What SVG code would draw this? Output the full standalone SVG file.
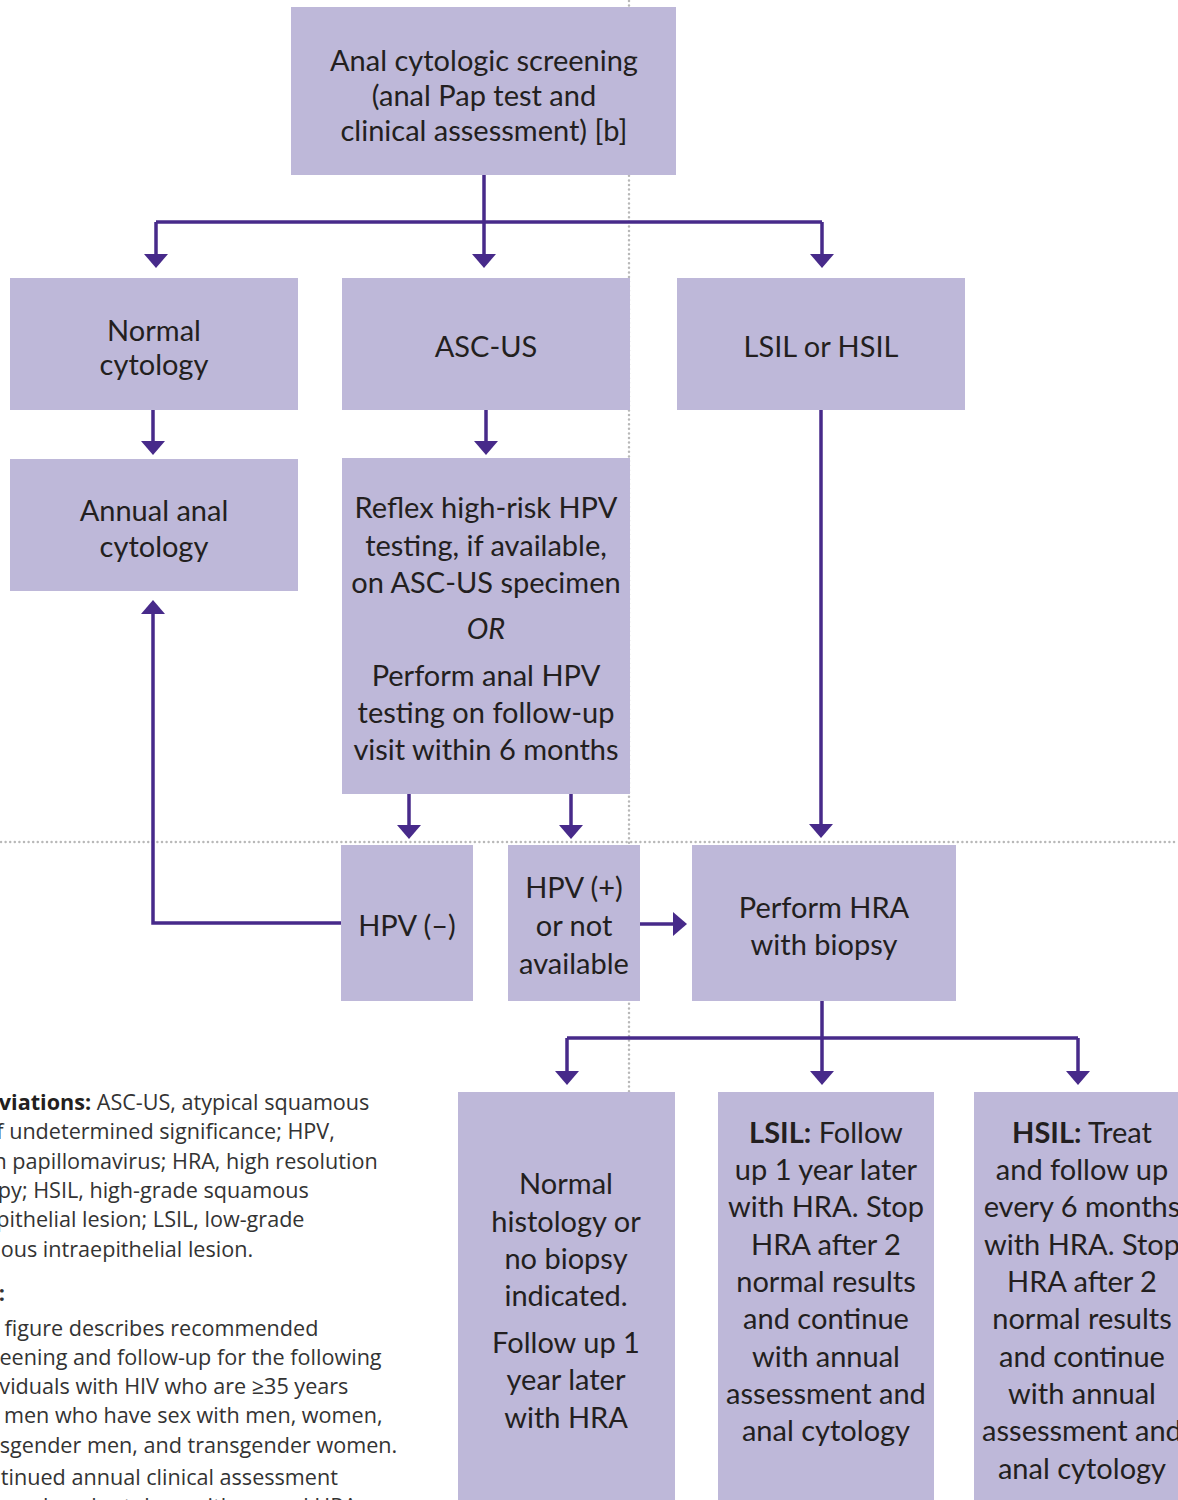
<svg xmlns="http://www.w3.org/2000/svg" width="1178" height="1500" viewBox="0 0 1178 1500">
<style>
.box{fill:#BEB8D9}
.t{font-family:Lato,"Noto Sans",sans-serif;font-size:29px;fill:#231F20;text-anchor:middle}
.b{font-weight:bold}
.i{font-style:italic}
.c{fill:none;stroke:#472A8A;stroke-width:3.5}
.a{marker-end:url(#ah)}
.dot{fill:none;stroke:#B8B8B8;stroke-width:2.5;stroke-linecap:round;stroke-dasharray:0 4.6}
.n{font-family:"Open Sans","Noto Sans",sans-serif;font-size:21.6px;fill:#333333}
</style>
<defs>
<marker id="ah" viewBox="0 0 14 24" refX="8" refY="12" markerWidth="14" markerHeight="24" markerUnits="userSpaceOnUse" orient="auto">
<path d="M0,0 L14,12 L0,24 z" fill="#472A8A"/>
</marker>
</defs>
<g id="guides">
<path class="dot" d="M629,1 V1092"/>
<path class="dot" d="M1,842 H1178"/>
</g>
<g id="connectors">
<path class="c" d="M484,175 V222"/>
<path class="c" d="M156,222 H822"/>
<path class="c a" d="M156,222 V262"/>
<path class="c a" d="M484,222 V262"/>
<path class="c a" d="M822,222 V262"/>
<path class="c a" d="M153,410 V449"/>
<path class="c a" d="M486,410 V449"/>
<path class="c a" d="M821,410 V832"/>
<path class="c a" d="M409,794 V833"/>
<path class="c a" d="M571,794 V833"/>
<path class="c a" d="M341,923 H153 V606"/>
<path class="c a" d="M640,924 H681"/>
<path class="c" d="M822,1001 V1038"/>
<path class="c" d="M567,1038 H1078"/>
<path class="c a" d="M567,1038 V1079"/>
<path class="c a" d="M822,1038 V1079"/>
<path class="c a" d="M1078,1038 V1079"/>
</g>
<g id="screening">
<rect class="box" x="291" y="7" width="385" height="168"/>
<text class="t" x="484" y="71">Anal cytologic screening</text>
<text class="t" x="484" y="106">(anal Pap test and</text>
<text class="t" x="484" y="141">clinical assessment) [b]</text>
</g>
<g id="normal-cytology">
<rect class="box" x="10" y="278" width="288" height="132"/>
<text class="t" x="154" y="341">Normal</text>
<text class="t" x="154" y="375">cytology</text>
</g>
<g id="asc-us">
<rect class="box" x="342" y="278" width="288" height="132"/>
<text class="t" x="486" y="357">ASC-US</text>
</g>
<g id="lsil-hsil">
<rect class="box" x="677" y="278" width="288" height="132"/>
<text class="t" x="821" y="357">LSIL or HSIL</text>
</g>
<g id="annual">
<rect class="box" x="10" y="459" width="288" height="132"/>
<text class="t" x="154" y="521">Annual anal</text>
<text class="t" x="154" y="557">cytology</text>
</g>
<g id="reflex">
<rect class="box" x="342" y="458" width="288" height="336"/>
<text class="t" x="486" y="518">Reflex high-risk HPV</text>
<text class="t" x="486" y="556">testing, if available,</text>
<text class="t" x="486" y="593">on ASC-US specimen</text>
<text class="t i" x="486" y="639">OR</text>
<text class="t" x="486" y="686">Perform anal HPV</text>
<text class="t" x="486" y="723">testing on follow-up</text>
<text class="t" x="486" y="760">visit within 6 months</text>
</g>
<g id="hpv-neg">
<rect class="box" x="341" y="845" width="132" height="156"/>
<text class="t" x="407" y="936">HPV (–)</text>
</g>
<g id="hpv-pos">
<rect class="box" x="508" y="845" width="132" height="156"/>
<text class="t" x="574" y="898">HPV (+)</text>
<text class="t" x="574" y="936">or not</text>
<text class="t" x="574" y="974">available</text>
</g>
<g id="hra">
<rect class="box" x="692" y="845" width="264" height="156"/>
<text class="t" x="824" y="918">Perform HRA</text>
<text class="t" x="824" y="955">with biopsy</text>
</g>
<g id="normal-histology">
<rect class="box" x="458" y="1092" width="217" height="410"/>
<text class="t" x="566" y="1194">Normal</text>
<text class="t" x="566" y="1232">histology or</text>
<text class="t" x="566" y="1269">no biopsy</text>
<text class="t" x="566" y="1306">indicated.</text>
<text class="t" x="566" y="1353">Follow up 1</text>
<text class="t" x="566" y="1390">year later</text>
<text class="t" x="566" y="1428">with HRA</text>
</g>
<g id="lsil-follow">
<rect class="box" x="718" y="1092" width="216" height="410"/>
<text class="t" x="826" y="1143"><tspan class="b">LSIL:</tspan> Follow</text>
<text class="t" x="826" y="1180">up 1 year later</text>
<text class="t" x="826" y="1217">with HRA. Stop</text>
<text class="t" x="826" y="1255">HRA after 2</text>
<text class="t" x="826" y="1292">normal results</text>
<text class="t" x="826" y="1329">and continue</text>
<text class="t" x="826" y="1367">with annual</text>
<text class="t" x="826" y="1404">assessment and</text>
<text class="t" x="826" y="1441">anal cytology</text>
</g>
<g id="hsil-treat">
<rect class="box" x="974" y="1092" width="216" height="410"/>
<text class="t" x="1082" y="1143"><tspan class="b">HSIL:</tspan> Treat</text>
<text class="t" x="1082" y="1180">and follow up</text>
<text class="t" x="1082" y="1217">every 6 months</text>
<text class="t" x="1082" y="1255">with HRA. Stop</text>
<text class="t" x="1082" y="1292">HRA after 2</text>
<text class="t" x="1082" y="1329">normal results</text>
<text class="t" x="1082" y="1367">and continue</text>
<text class="t" x="1082" y="1404">with annual</text>
<text class="t" x="1082" y="1441">assessment and</text>
<text class="t" x="1082" y="1479">anal cytology</text>
</g>
<g id="notes">
<text class="n" x="-66" y="1110"><tspan class="b" fill="#231F20">Abbreviations:</tspan> ASC-US, atypical squamous</text>
<text class="n" x="-66" y="1139">cells of undetermined significance; HPV,</text>
<text class="n" x="-65" y="1169">human papillomavirus; HRA, high resolution</text>
<text class="n" x="-74" y="1198">anoscopy; HSIL, high-grade squamous</text>
<text class="n" x="-63" y="1227">intraepithelial lesion; LSIL, low-grade</text>
<text class="n" x="-68" y="1257">squamous intraepithelial lesion.</text>
<text class="n b" x="-65" y="1301" fill="#231F20">Notes:</text>
<text class="n" x="-42" y="1336">This figure describes recommended</text>
<text class="n" x="-30" y="1365">screening and follow-up for the following</text>
<text class="n" x="-38" y="1394">individuals with HIV who are ≥35 years</text>
<text class="n" x="-39" y="1423">old: men who have sex with men, women,</text>
<text class="n" x="-42" y="1453">transgender men, and transgender women.</text>
<text class="n" x="-39" y="1485">Continued annual clinical assessment</text>
<text class="n" x="10" y="1514">and anal cytology with annual HRA</text>
</g>
</svg>
